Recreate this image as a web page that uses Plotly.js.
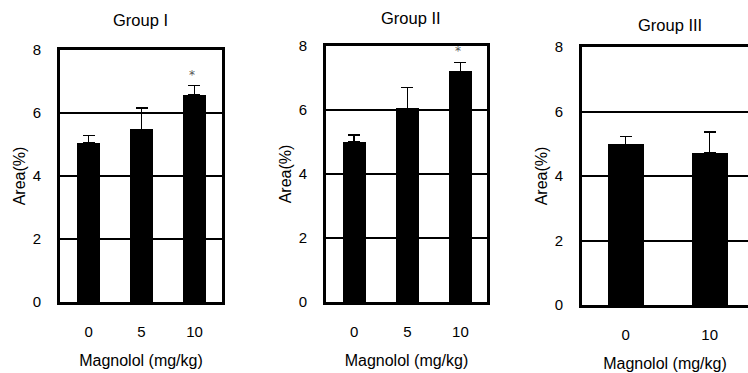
<!DOCTYPE html>
<html>
<head>
<meta charset="utf-8">
<script src="https://cdn.plot.ly/plotly-3.0.1.min.js"></script>
<style>html,body{margin:0;padding:0;background:#fff;}#chart{width:748px;height:373px;}</style>
</head>
<body>
<div id="chart"></div>
<script>
// Data
var groupTitles = ['Group I', 'Group II', 'Group III'];
var doses1 = ['0', '5', '10'];
var means1 = [5.05, 5.48, 6.58];
var errs1 = [0.23, 0.68, 0.29];
var sig1 = ['', '', '*'];

var doses2 = ['0', '5', '10'];
var means2 = [5.01, 6.05, 7.21];
var errs2 = [0.21, 0.65, 0.28];
var sig2 = ['', '', '*'];

var doses3 = ['0', '10'];
var means3 = [4.98, 4.72];
var errs3 = [0.24, 0.65];
var sig3 = ['', ''];

var yTicks = [0, 2, 4, 6, 8];
var xTitle = 'Magnolol (mg/kg)';
var yTitle = 'Area(%)';

var FONT = 'Liberation Sans, Arial, Helvetica, sans-serif';

function barTrace(x, y, e, xa, ya) {
  return {
    type: 'bar', x: x, y: y, xaxis: xa, yaxis: ya,
    width: 0.43,
    marker: {color: '#000', line: {width: 0}},
    error_y: {type: 'data', array: e, arrayminus: e.map(function(){return 0;}), symmetric: false,
              color: '#000', thickness: 1.5, width: 6},
    hoverinfo: 'none', showlegend: false
  };
}

var traces = [
  barTrace(doses1, means1, errs1, 'x', 'y'),
  barTrace(doses2, means2, errs2, 'x2', 'y2'),
  barTrace(doses3, means3, errs3, 'x3', 'y3')
];

function xaxis(domain, range, anchor) {
  return {
    domain: domain, range: range, anchor: anchor, type: 'category',
    showline: true, linecolor: '#000', linewidth: 3, mirror: true,
    showgrid: false, zeroline: false, ticks: '', ticklabelstandoff: 14,
    tickfont: {family: FONT, size: 15, color: '#000'},
    title: {text: xTitle, font: {family: FONT, size: 16, color: '#000'}, standoff: 16},
    fixedrange: true
  };
}
function yaxis(domain, anchor, mirror) {
  return {
    domain: domain, range: [0, 8], anchor: anchor,
    tickvals: yTicks, ticktext: yTicks.map(String),
    showline: true, linecolor: '#000', linewidth: 3, mirror: mirror,
    showgrid: true, gridcolor: '#000', gridwidth: 2, zeroline: false,
    ticks: '', ticklabelstandoff: 13,
    tickfont: {family: FONT, size: 15, color: '#000'},
    title: {text: yTitle, font: {family: FONT, size: 16, color: '#000'}, standoff: 4},
    fixedrange: true
  };
}

var layout = {
  width: 748, height: 373,
  margin: {l: 0, r: 0, t: 0, b: 0},
  paper_bgcolor: '#fff', plot_bgcolor: '#fff',
  bargap: 0,
  xaxis: xaxis([60/748, 222/748], [-0.54, 2.52], 'y'),
  yaxis: yaxis([71/373, 323/373], 'x', true),
  xaxis2: xaxis([326/748, 487/748], [-0.53, 2.5], 'y2'),
  yaxis2: yaxis([71/373, 327/373], 'x2', true),
  xaxis3: xaxis([582/748, 1], [-0.52, 1.456], 'y3'),
  yaxis3: yaxis([68/373, 326/373], 'x3', false),
  annotations: [],
  showlegend: false
};

var titleX = [140, 411, 670];
var titleY = [20, 18, 25];
for (var i = 0; i < 3; i++) {
  layout.annotations.push({
    text: groupTitles[i], xref: 'paper', yref: 'paper',
    x: titleX[i] / 748, y: 1 - titleY[i] / 373, xanchor: 'center', yanchor: 'middle',
    showarrow: false, font: {family: FONT, size: 16.5, color: '#000'}
  });
}

function addSig(doses, means, errs, sig, xa, ya) {
  for (var j = 0; j < doses.length; j++) {
    if (!sig[j]) continue;
    layout.annotations.push({
      text: sig[j], xref: xa, yref: ya, x: j - 0.05, y: means[j] + errs[j],
      xanchor: 'center', yanchor: 'bottom', yshift: 2, showarrow: false,
      font: {family: 'DejaVu Sans, sans-serif', size: 12, color: '#555'}
    });
  }
}
addSig(doses1, means1, errs1, sig1, 'x', 'y');
addSig(doses2, means2, errs2, sig2, 'x2', 'y2');
addSig(doses3, means3, errs3, sig3, 'x3', 'y3');

Plotly.newPlot('chart', traces, layout, {staticPlot: true, displayModeBar: false});
</script>
</body>
</html>
